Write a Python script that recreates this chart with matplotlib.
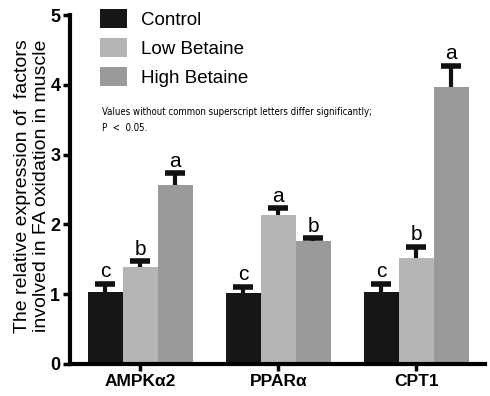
import numpy as np
import matplotlib.pyplot as plt

genes = ['AMPKα2', 'PPARα', 'CPT1']
groups = ['Control', 'Low Betaine', 'High Betaine']
control = [1.03, 1.02, 1.03]
low = [1.39, 2.13, 1.52]
high = [2.56, 1.76, 3.97]
control_err = [0.12, 0.08, 0.12]
low_err = [0.08, 0.10, 0.16]
high_err = [0.17, 0.04, 0.30]
letters = [['c', 'c', 'c'], ['b', 'a', 'b'], ['a', 'b', 'a']]

colors = ['#161616', '#b5b5b5', '#9a9a9a']

plt.rcParams['font.family'] = ['Liberation Sans', 'DejaVu Sans']

fig = plt.figure(figsize=(4.9, 3.96), dpi=100)
ax = fig.add_axes([0.143, 0.081, 0.847, 0.881])

x = np.arange(len(genes))
w = 0.254
series = [control, low, high]
errs = [control_err, low_err, high_err]
for i, (vals, err) in enumerate(zip(series, errs)):
    pos = x + (i - 1) * w
    vals = np.array(vals)
    err = np.array(err)
    ax.bar(pos, vals, w, color=colors[i], label=groups[i], edgecolor='none')
    # upper error only
    ax.vlines(pos, vals, vals + err, color='#111111', linewidth=3)
    ax.plot(pos, vals + err, ls='none', marker='_', markersize=14,
            markeredgewidth=4, color='#111111')
    for p, v, e, t in zip(pos, vals, err, letters[i]):
        ax.text(p, v + e + 0.04, t, ha='center', va='bottom', fontsize=15)

ax.set_xlim(-0.51, 2.5)
ax.set_ylim(0, 5)
ax.set_yticks([0, 1, 2, 3, 4, 5])
ax.set_xticks(x)
ax.set_xticklabels(genes, fontsize=12.5, fontweight='bold')
for lab in ax.get_yticklabels():
    lab.set_fontweight('bold')
    lab.set_fontsize(13)
ax.tick_params(width=2.5, length=5, pad=2)
for s in ['top', 'right']:
    ax.spines[s].set_visible(False)
for s in ['left', 'bottom']:
    ax.spines[s].set_linewidth(3)

ax.set_ylabel('The relative expression of  factors\ninvolved in FA oxidation in muscle',
              fontsize=14, labelpad=0, linespacing=1.2)
ax.yaxis.label.set_y(0.51)

ax.legend(loc='upper left', bbox_to_anchor=(0.032, 1.065), frameon=False, fontsize=13.5,
          handlelength=1.45, handleheight=1.15, handletextpad=0.75, labelspacing=0.5)

ax.text(0.078, 0.736, 'Values without common superscript letters differ significantly;\nP  <  0.05.',
        transform=ax.transAxes, fontsize=6.9, family='DejaVu Sans', stretch='condensed',
        va='top', linespacing=1.7)

fig.savefig('out.png', dpi=100)
